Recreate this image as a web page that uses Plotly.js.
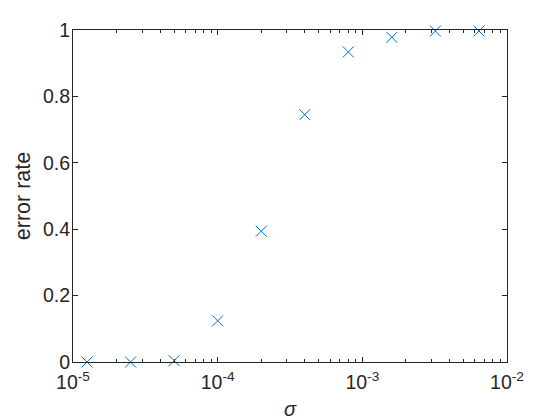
<!DOCTYPE html>
<html>
<head>
<meta charset="utf-8">
<script src="https://cdn.plot.ly/plotly-3.0.1.min.js"></script>
<style>
  html, body { margin: 0; padding: 0; background: #fff; }
  #plot { width: 560px; height: 420px; }
</style>
</head>
<body>
<div id="plot"></div>
<script>
const sigma = [1.25e-5, 2.5e-5, 5e-5, 1e-4, 2e-4, 4e-4, 8e-4, 1.6e-3, 3.2e-3, 6.4e-3]
const errorRate = [0, 0, 0.004, 0.124, 0.394, 0.745, 0.934, 0.978, 0.997, 0.997]
const xTickVals = [1e-5, 1e-4, 1e-3, 1e-2]
const xTickText = ['10<sup>-5</sup>', '10<sup>-4</sup>', '10<sup>-3</sup>', '10<sup>-2</sup>']
const yTickVals = [0, 0.2, 0.4, 0.6, 0.8, 1]
const yTickText = ['0', '0.2', '0.4', '0.6', '0.8', '1']

const colorMarker = 'rgb(0,114,189)'
const colorAxis = 'rgb(38,38,38)'
const fontFamily = '"Liberation Sans", Arial, sans-serif'

const data = [
  {
    x: sigma,
    y: errorRate,
    type: 'scatter',
    mode: 'markers',
    marker: {
      symbol: 'x-thin-open',
      size: 11,
      color: colorMarker,
      line: {color: colorMarker, width: 1}
    },
    cliponaxis: false,
    showlegend: false
  }
]

const layout = {
  width: 560,
  height: 420,
  margin: {l: 73, r: 53, t: 30, b: 58},
  paper_bgcolor: '#fff',
  plot_bgcolor: '#fff',
  font: {family: fontFamily, size: 19, color: colorAxis},
  xaxis: {
    type: 'log',
    range: [-5, -2],
    tickvals: xTickVals,
    ticktext: xTickText,
    ticks: 'inside',
    ticklen: 5,
    tickcolor: colorAxis,
    showline: true,
    linecolor: colorAxis,
    linewidth: 1,
    mirror: 'ticks',
    showgrid: false,
    zeroline: false,
    minor: {ticks: 'inside', ticklen: 3, dtick: 'D1', tickcolor: colorAxis, showgrid: false},
    tickfont: {size: 19.5, color: colorAxis},
    ticklabelstandoff: 3,
    title: {text: '<i>σ</i>', font: {size: 20, color: colorAxis}, standoff: 10}
  },
  yaxis: {
    range: [0, 1],
    tickvals: yTickVals,
    ticktext: yTickText,
    ticks: 'inside',
    ticklen: 5,
    tickcolor: colorAxis,
    showline: true,
    linecolor: colorAxis,
    linewidth: 1,
    mirror: 'ticks',
    showgrid: false,
    zeroline: false,
    tickfont: {size: 19.5, color: colorAxis},
    ticklabelstandoff: -2,
    title: {text: 'error rate', font: {size: 21.5, color: colorAxis}, standoff: 6}
  },
  showlegend: false
}

Plotly.newPlot('plot', data, layout, {displayModeBar: false, staticPlot: true})
</script>
</body>
</html>
